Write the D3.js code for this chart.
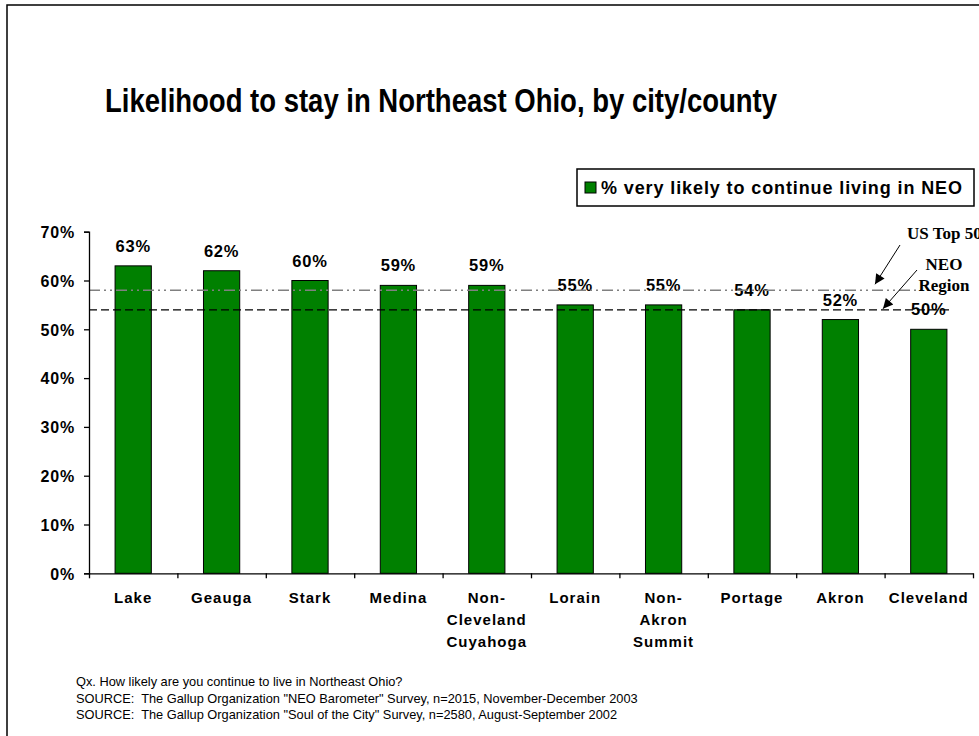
<!DOCTYPE html>
<html>
<head>
<meta charset="utf-8">
<script src="https://cdn.jsdelivr.net/npm/d3@7"></script>
<style>
  html, body { margin: 0; padding: 0; background: #fff; }
  svg { display: block; }
  text { font-family: "Liberation Sans", Arial, sans-serif; fill: #000; }
  text.serif { font-family: "Liberation Serif", "Times New Roman", serif; }
  text.note { white-space: pre; }
</style>
</head>
<body>
<svg id="chart" width="979" height="736"></svg>
<script>
// Survey results: share "very likely" to keep living in Northeast Ohio
const categories = ["Lake", "Geauga", "Stark", "Medina", "Non-Cleveland Cuyahoga",
                    "Lorain", "Non-Akron Summit", "Portage", "Akron", "Cleveland"];
const categoryLines = [["Lake"], ["Geauga"], ["Stark"], ["Medina"], ["Non-", "Cleveland", "Cuyahoga"],
                       ["Lorain"], ["Non-", "Akron", "Summit"], ["Portage"], ["Akron"], ["Cleveland"]];
const values = [0.63, 0.62, 0.60, 0.59, 0.59, 0.55, 0.55, 0.54, 0.52, 0.50];
const yTicks = [0, 0.1, 0.2, 0.3, 0.4, 0.5, 0.6, 0.7];
const benchmarkNames = ["US Top 50", "NEO Region"];
const benchmarkValues = [0.58, 0.54];
const seriesName = "% very likely to continue living in NEO";
const titleText = "Likelihood to stay in Northeast Ohio, by city/county";
const footnotes = [
  "Qx. How likely are you continue to live in Northeast Ohio?",
  "SOURCE:  The Gallup Organization \"NEO Barometer\" Survey, n=2015, November-December 2003",
  "SOURCE:  The Gallup Organization \"Soul of the City\" Survey, n=2580, August-September 2002"
];

const svg = d3.select("#chart");
const barFill = "#008000";

// slide frame
svg.append("rect").attr("x", 7).attr("y", 5).attr("width", 1000).attr("height", 800)
  .attr("fill", "none").attr("stroke", "#000").attr("stroke-width", 1.5);

// title
svg.append("text").attr("x", 105).attr("y", 112)
  .attr("font-size", 33).attr("font-weight", "bold")
  .attr("textLength", 672).attr("lengthAdjust", "spacingAndGlyphs")
  .text(titleText);

// scales
const plotLeft = 89, plotRight = 973, plotBottom = 573.3, plotTop = 231.7;
const x = d3.scaleBand().domain(categories).range([plotLeft, plotRight])
  .paddingInner(0.59).paddingOuter(0.295);
const y = d3.scaleLinear().domain([0, 0.7]).range([plotBottom, plotTop]);
const edges = d3.scaleLinear().domain([0, categories.length]).range([plotLeft, plotRight]);

// bars
svg.append("g").selectAll("rect").data(values).join("rect")
  .attr("x", (d, i) => x(categories[i]))
  .attr("y", d => y(d))
  .attr("width", x.bandwidth())
  .attr("height", d => plotBottom - y(d))
  .attr("fill", barFill).attr("stroke", "#000").attr("stroke-width", 1);

// value labels
svg.append("g").selectAll("text").data(values).join("text")
  .attr("x", (d, i) => x(categories[i]) + x.bandwidth() / 2)
  .attr("y", d => y(d) - 14)
  .attr("text-anchor", "middle")
  .attr("font-size", 16.5).attr("font-weight", "bold").attr("letter-spacing", 0.8)
  .text(d => Math.round(d * 100) + "%");

// benchmark lines
const benchEnds = [921, 950];
const benchStyles = [
  { stroke: "#808080", dash: "11,4,2,4,2,4" },
  { stroke: "#000", dash: "8,4" }
];
svg.append("g").selectAll("line").data(benchmarkValues).join("line")
  .attr("x1", plotLeft).attr("x2", (d, i) => benchEnds[i])
  .attr("y1", d => y(d)).attr("y2", d => y(d))
  .attr("stroke", (d, i) => benchStyles[i].stroke)
  .attr("stroke-width", 1.3)
  .attr("stroke-dasharray", (d, i) => benchStyles[i].dash);

// y axis
const yAxis = svg.append("g").attr("transform", `translate(${plotLeft},0)`)
  .call(d3.axisLeft(y).tickValues(yTicks).tickSize(5).tickPadding(9)
    .tickFormat(d => Math.round(d * 100) + "%"));
yAxis.select(".domain").attr("stroke", "#000").attr("stroke-width", 1.3);
yAxis.selectAll(".tick line").attr("stroke", "#000").attr("stroke-width", 1.3);
yAxis.selectAll(".tick text").attr("font-size", 16).attr("font-weight", "bold")
  .attr("letter-spacing", 0.8).attr("dy", "0.36em");

// x axis (ticks sit on the category boundaries)
const xAxis = svg.append("g").attr("transform", `translate(0,${plotBottom})`)
  .call(d3.axisBottom(edges).tickValues(d3.range(categories.length + 1))
    .tickSize(5).tickSizeOuter(0).tickFormat(""));
xAxis.select(".domain").attr("stroke", "#000").attr("stroke-width", 1.3);
xAxis.selectAll(".tick line").attr("stroke", "#000").attr("stroke-width", 1.3);

// category labels
const catG = svg.append("g").selectAll("text").data(categoryLines).join("text")
  .attr("text-anchor", "middle")
  .attr("font-size", 15).attr("font-weight", "bold").attr("letter-spacing", 1);
catG.each(function (lines, i) {
  const cx = x(categories[i]) + x.bandwidth() / 2;
  d3.select(this).selectAll("tspan").data(lines).join("tspan")
    .attr("x", cx).attr("y", (d, j) => 603 + j * 22).text(d => d);
});

// legend
svg.append("rect").attr("x", 577).attr("y", 169).attr("width", 397).attr("height", 37)
  .attr("fill", "#fff").attr("stroke", "#000").attr("stroke-width", 1.5);
svg.append("rect").attr("x", 585).attr("y", 182).attr("width", 11).attr("height", 11)
  .attr("fill", barFill).attr("stroke", "#000").attr("stroke-width", 1);
svg.append("text").attr("x", 601).attr("y", 194)
  .attr("font-size", 18).attr("font-weight", "bold")
  .attr("textLength", 361).attr("lengthAdjust", "spacing")
  .text(seriesName);

// benchmark annotations
svg.append("text").attr("class", "serif").attr("x", 907).attr("y", 239)
  .attr("font-size", 17).attr("font-weight", "bold")
  .text(benchmarkNames[0]);
const neoWords = benchmarkNames[1].split(" ");
svg.append("text").attr("class", "serif").attr("text-anchor", "middle")
  .attr("font-size", 17).attr("font-weight", "bold")
  .selectAll("tspan").data(neoWords).join("tspan")
  .attr("x", 944).attr("y", (d, j) => 270 + j * 21).text(d => d);

// arrows from the annotations to their lines
svg.append("defs").append("marker").attr("id", "arrow")
  .attr("viewBox", "0 0 10 10").attr("refX", 10).attr("refY", 5)
  .attr("markerWidth", 12).attr("markerHeight", 10).attr("markerUnits", "userSpaceOnUse")
  .attr("orient", "auto")
  .append("path").attr("d", "M0,0 L10,5 L0,10 z").attr("fill", "#000");
const arrowStarts = [[900, 245], [917, 270]];
const arrowEndX = [875, 883];
const arrowGap = [6, 1];
svg.append("g").selectAll("line").data(benchmarkValues).join("line")
  .attr("x1", (d, i) => arrowStarts[i][0]).attr("y1", (d, i) => arrowStarts[i][1])
  .attr("x2", (d, i) => arrowEndX[i]).attr("y2", (d, i) => y(d) - arrowGap[i])
  .attr("stroke", "#000").attr("stroke-width", 1)
  .attr("marker-end", "url(#arrow)");

// footnotes
svg.append("g").selectAll("text").data(footnotes).join("text")
  .attr("class", "note")
  .attr("x", 76).attr("y", (d, i) => 686 + i * 16.5)
  .attr("font-size", 12.8)
  .text(d => d);
</script>
</body>
</html>
